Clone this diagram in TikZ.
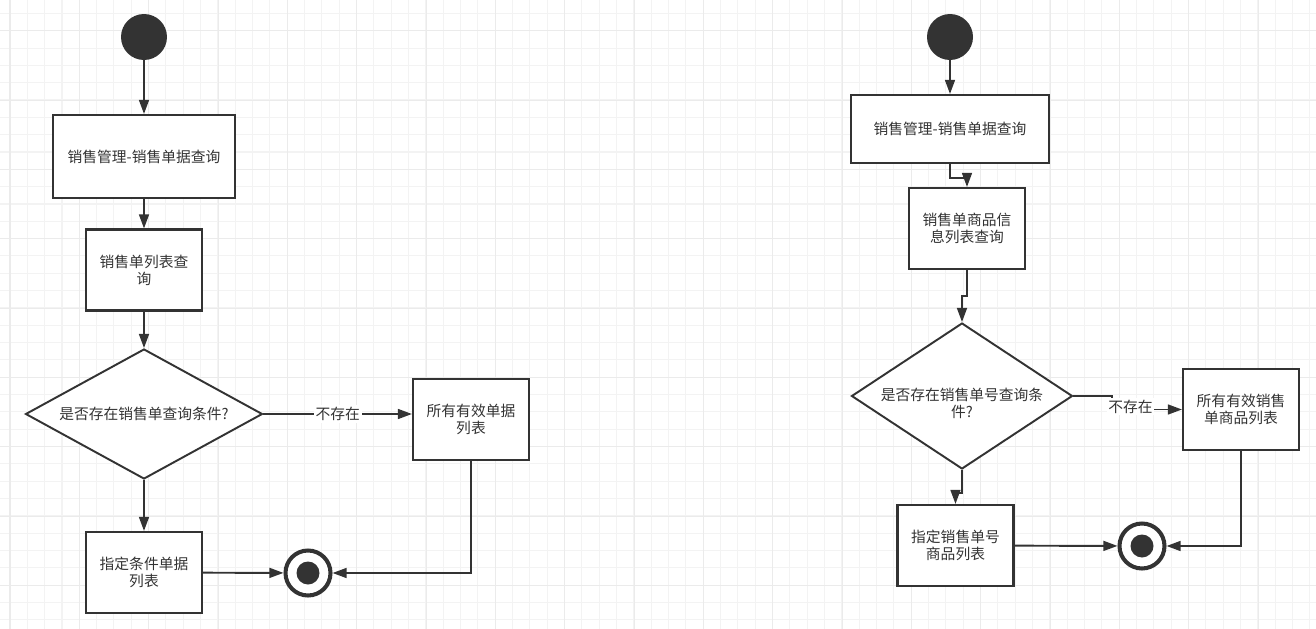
\documentclass[tikz,border=0pt]{standalone}
\usepackage{fontspec}
\setmainfont{Noto Sans CJK SC}
\usetikzlibrary{arrows.meta,shapes.geometric}
\definecolor{linec}{HTML}{333333}
\definecolor{gridmin}{HTML}{F3F3F3}
\definecolor{gridmaj}{HTML}{EBEBEB}

\begin{document}
\begin{tikzpicture}[x=0.02cm,y=-0.02cm,>={Triangle[length=8pt,width=5.6pt]},
  every node/.style={font=\fontsize{8.4}{9.8}\selectfont,text=linec},
  act/.style={draw=linec,line width=1.2pt,fill=white,align=center,inner sep=0pt,minimum width=2.32cm,minimum height=1.62cm},
  dec/.style={diamond,aspect=1.8,draw=linec,line width=1.1pt,fill=white,align=center,inner sep=0pt},
  startn/.style={circle,fill=linec,inner sep=0pt,minimum size=0.92cm},
  endn/.style={circle,draw=linec,line width=2.3pt,fill=white,inner sep=0pt,minimum size=0.9cm,
    path picture={\fill[linec] (path picture bounding box.center) circle (0.23cm);}},
  lbl/.style={fill=white,inner sep=1pt},
  flow/.style={->,draw=linec,line width=1.1pt},
  gmin/.style={draw=gridmin,line width=0.57pt},
  gmaj/.style={draw=gridmaj,line width=0.57pt}]
\useasboundingbox (0,0) rectangle (1316,629);
\begin{scope}
\clip (0,0) rectangle (1316,629);
\fill[white] (0,0) rectangle (1316,629);
\foreach \k in {0,...,76} \draw[gmin] ({-7.333+17.333*\k},0) -- ++(0,629);
\foreach \k in {0,...,37} \draw[gmin] (0,{-4+17.333*\k}) -- ++(1316,0);
\foreach \k in {0,...,18} \draw[gmaj] ({10+69.333*\k},0) -- ++(0,629);
\foreach \k in {0,...,9} \draw[gmaj] (0,{30.667+69.333*\k}) -- ++(1316,0);
\end{scope}

\node[startn] (ls) at (144,37) {};
\node[act,minimum width=3.64cm,minimum height=1.66cm] (l1) at (144,156.5) {销售管理-销售单据查询};
\node[act] (l2) at (144,270) {销售单列表查\\询};
\node[dec,minimum width=4.74cm,minimum height=2.6cm] (ld) at (144,414) {是否存在销售单查询条件?};
\node[act] (l3) at (471,419.5) {所有有效单据\\列表};
\node[act] (l4) at (144,572.5) {指定条件单据\\列表};
\node[endn] (le) at (308,573) {};

\node[startn] (rs) at (950,37) {};
\node[act,minimum width=3.96cm,minimum height=1.36cm] (r1) at (950,129) {销售管理-销售单据查询};
\node[act] (r2) at (967,228.5) {销售单商品信\\息列表查询};
\node[dec,minimum width=4.42cm,minimum height=2.92cm,
  label={[yshift=-0.14cm,align=center]center:{是否存在销售单号查询条\\件?}}] (rd) at (962,396) {};
\node[act] (r3) at (1241,409.5) {所有有效销售\\单商品列表};
\node[act] (r4) at (955.5,545.5) {指定销售单号\\商品列表};
\node[endn] (re) at (1142,546) {};

\draw[flow] (ls) -- (l1);
\draw[flow] (l1) -- (l2);
\draw[flow] (l2) -- (ld);
\draw[flow] (ld.east) -- node[lbl]{不存在} (ld.east -| l3.west);
\draw[flow] (ld) -- (l4);
\draw[flow] (l4) -- (le);
\draw[flow] (l3.south) |- (le.east);

\draw[flow] (rs) -- (r1);
\draw[flow] (r1.south) -- ++(0,14) -| (r2.north);
\draw[flow] (r2.south) -- ++(0,26) -| (rd.north);
\draw[flow] (rd.south) -- ++(0,23) -| (r4.north);
\draw[flow] (rd.east) -- ++(39,0) |- node[lbl,pos=0.63,yshift=0.06cm]{不存在} (r3.west);
\draw[flow] (r4) -- (re);
\draw[flow] (r3.south) |- (re.east);
\end{tikzpicture}
\end{document}
